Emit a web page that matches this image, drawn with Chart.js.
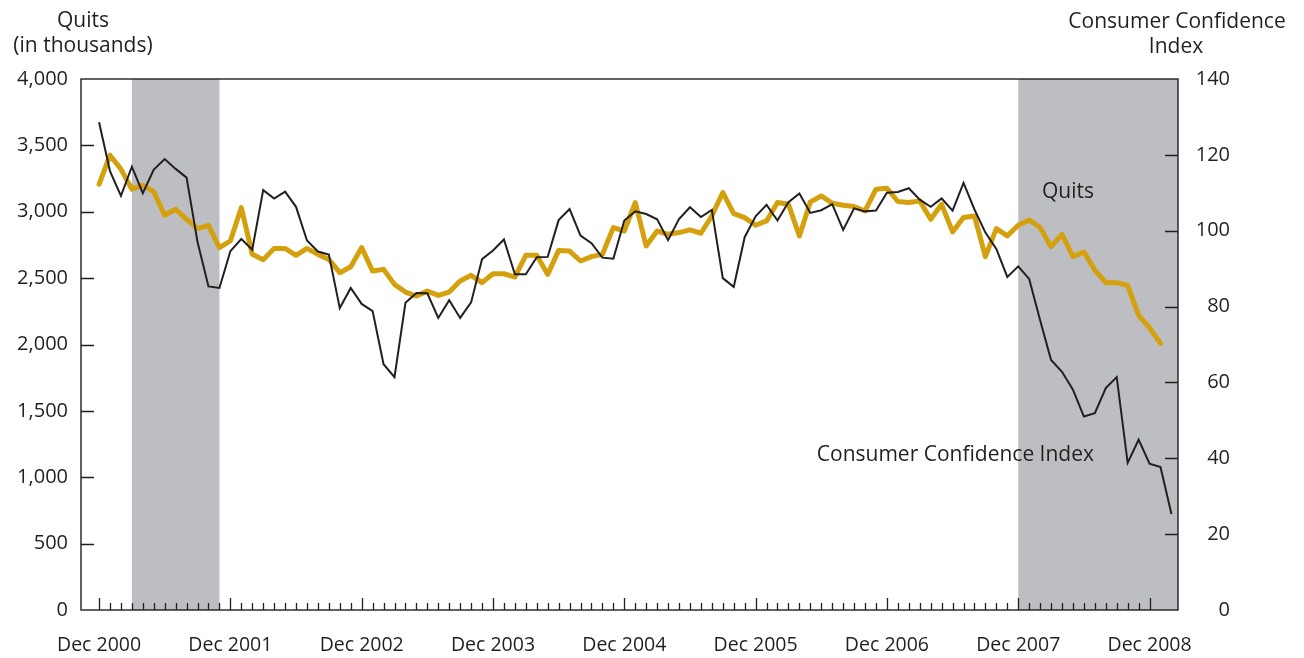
<!DOCTYPE html>
<html>
<head>
<meta charset="utf-8">
<script src="https://cdn.jsdelivr.net/npm/chart.js@4.4.1/dist/chart.umd.min.js"></script>
<style>
html,body{margin:0;padding:0;background:#fff;}
canvas{display:block;}
</style>
</head>
<body>
<canvas id="c" width="1304" height="658"></canvas>
<script>
// Months, Dec 2000 .. Feb 2009
const months = [
  "Dec 2000",
  "Jan 2001","Feb 2001","Mar 2001","Apr 2001","May 2001","Jun 2001","Jul 2001","Aug 2001","Sep 2001","Oct 2001","Nov 2001","Dec 2001",
  "Jan 2002","Feb 2002","Mar 2002","Apr 2002","May 2002","Jun 2002","Jul 2002","Aug 2002","Sep 2002","Oct 2002","Nov 2002","Dec 2002",
  "Jan 2003","Feb 2003","Mar 2003","Apr 2003","May 2003","Jun 2003","Jul 2003","Aug 2003","Sep 2003","Oct 2003","Nov 2003","Dec 2003",
  "Jan 2004","Feb 2004","Mar 2004","Apr 2004","May 2004","Jun 2004","Jul 2004","Aug 2004","Sep 2004","Oct 2004","Nov 2004","Dec 2004",
  "Jan 2005","Feb 2005","Mar 2005","Apr 2005","May 2005","Jun 2005","Jul 2005","Aug 2005","Sep 2005","Oct 2005","Nov 2005","Dec 2005",
  "Jan 2006","Feb 2006","Mar 2006","Apr 2006","May 2006","Jun 2006","Jul 2006","Aug 2006","Sep 2006","Oct 2006","Nov 2006","Dec 2006",
  "Jan 2007","Feb 2007","Mar 2007","Apr 2007","May 2007","Jun 2007","Jul 2007","Aug 2007","Sep 2007","Oct 2007","Nov 2007","Dec 2007",
  "Jan 2008","Feb 2008","Mar 2008","Apr 2008","May 2008","Jun 2008","Jul 2008","Aug 2008","Sep 2008","Oct 2008","Nov 2008","Dec 2008",
  "Jan 2009","Feb 2009"
];

// Quits (in thousands), left axis
const quits = [
  3207,
  3426,3321,3170,3200,3150,2974,3019,2943,2873,2898,2730,2780,
  3032,2679,2638,2724,2724,2672,2724,2679,2641,2541,2586,2730,
  2553,2566,2453,2395,2365,2402,2370,2395,2478,2521,2466,2533,
  2533,2508,2672,2672,2528,2709,2704,2629,2662,2679,2881,2855,
  3069,2742,2855,2830,2843,2863,2838,2968,3145,2986,2956,2898,
  2931,3069,3056,2817,3074,3119,3064,3049,3039,3006,3170,3177,
  3077,3069,3082,2943,3056,2848,2956,2968,2662,2873,2818,2898,
  2938,2881,2737,2830,2662,2697,2561,2466,2466,2445,2219,2126,
  2008,null
];

// Consumer Confidence Index, right axis
const cci = [
  128.6,
  115.7,109.2,116.9,109.9,116.1,118.9,116.3,114.0,97.0,85.3,84.9,94.6,
  97.8,95.0,110.7,108.5,110.3,106.3,97.4,94.5,93.7,79.6,84.9,80.7,
  78.8,64.8,61.4,81.0,83.6,83.5,77.0,81.7,77.0,81.1,92.5,94.8,
  97.7,88.5,88.5,93.0,93.1,102.8,105.7,98.7,96.7,92.9,92.6,102.7,
  105.1,104.4,103.0,97.5,103.1,106.2,103.6,105.5,87.5,85.2,98.3,103.8,
  106.8,102.7,107.5,109.8,104.7,105.4,107.0,100.2,105.9,105.1,105.3,110.0,
  110.2,111.2,108.2,106.3,108.5,105.3,112.6,105.6,99.5,95.2,87.8,90.6,
  87.3,76.4,65.9,62.8,58.1,51.0,51.9,58.5,61.4,38.8,44.9,38.6,
  37.7,25.3
];

// Tick labels on the time axis
const tickLabels = ["Dec 2000","Dec 2001","Dec 2002","Dec 2003","Dec 2004","Dec 2005","Dec 2006","Dec 2007","Dec 2008"];
const leftTicks = [0,500,1000,1500,2000,2500,3000,3500,4000];
const rightTicks = [0,20,40,60,80,100,120,140];

// Recessions (first month, last month; null = to the end of the axis)
const recessions = [["Mar 2001","Nov 2001"],["Dec 2007",null]];

const INK = '#231F20';
const GOLD = '#D5A00E';
const SHADE = '#BCBEC1';
const FONT = "'Open Sans', 'DejaVu Sans', sans-serif";

const decTicks = tickLabels.map(l => months.indexOf(l));

const decor = {
  id: 'decor',
  beforeDatasetsDraw(chart) {
    const {ctx, chartArea: a, scales: {x}} = chart;
    ctx.save();
    ctx.fillStyle = SHADE;
    recessions.forEach(([s, e]) => {
      const x1 = x.getPixelForValue(months.indexOf(s));
      const x2 = e === null ? a.right : x.getPixelForValue(months.indexOf(e));
      ctx.fillRect(x1, a.top, x2 - x1, a.bottom - a.top);
    });
    ctx.restore();
  },
  afterDatasetsDraw(chart) {
    const {ctx, chartArea: a, scales: {x, y, y2}} = chart;
    ctx.save();
    ctx.strokeStyle = INK;
    ctx.lineWidth = 1.4;
    // frame
    ctx.strokeRect(a.left, a.top, a.right - a.left, a.bottom - a.top);
    ctx.lineWidth = 1.3;
    ctx.beginPath();
    // month ticks on the time axis (pointing inward)
    for (let i = 0; i <= decTicks[decTicks.length - 1]; i++) {
      const px = Math.round(x.getPixelForValue(i)) + 0.5;
      const len = decTicks.includes(i) ? 12 : 7;
      ctx.moveTo(px, a.bottom);
      ctx.lineTo(px, a.bottom - len);
    }
    // left ticks
    leftTicks.forEach(v => {
      if (v === 0 || v === 4000) return;
      const py = Math.round(y.getPixelForValue(v)) + 0.5;
      ctx.moveTo(a.left, py); ctx.lineTo(a.left + 13, py);
    });
    // right ticks
    rightTicks.forEach(v => {
      if (v === 0 || v === 140) return;
      const py = Math.round(y2.getPixelForValue(v)) + 0.5;
      ctx.moveTo(a.right, py); ctx.lineTo(a.right - 13, py);
    });
    ctx.stroke();

    // titles and annotations
    ctx.fillStyle = INK;
    ctx.textBaseline = 'alphabetic';
    ctx.font = "21px " + FONT;
    ctx.textAlign = 'center';
    ctx.fillText('Quits', 83, 27);
    ctx.fillText('(in thousands)', 83, 52);
    ctx.fillText('Consumer Confidence', 1177, 28);
    ctx.fillText('Index', 1176, 53);
    ctx.textAlign = 'right';
    ctx.fillText('Quits', 1094, 198);
    ctx.fillText('Consumer Confidence Index', 1094, 461);
    ctx.restore();
  }
};

Chart.defaults.font.family = FONT;
Chart.defaults.color = INK;

new Chart(document.getElementById('c'), {
  type: 'line',
  data: {
    datasets: [
      {
        label: 'Consumer Confidence Index',
        data: cci.map((v, i) => ({x: i, y: v})),
        yAxisID: 'y2',
        borderColor: INK,
        borderWidth: 2,
        pointRadius: 0,
        tension: 0,
        fill: false
      },
      {
        label: 'Quits',
        data: quits.map((v, i) => ({x: i, y: v})),
        yAxisID: 'y',
        borderColor: GOLD,
        borderWidth: 5,
        borderJoinStyle: 'round',
        borderCapStyle: 'round',
        pointRadius: 0,
        tension: 0,
        fill: false,
        spanGaps: false
      }
    ]
  },
  options: {
    responsive: false,
    animation: false,
    devicePixelRatio: 1,
    layout: {padding: {top: 79, right: 74, left: 0, bottom: 0}},
    plugins: {legend: {display: false}, tooltip: {enabled: false}},
    scales: {
      x: {
        type: 'linear',
        min: -1.65,
        max: 98.6,
        grid: {display: false, drawTicks: false},
        border: {display: false},
        afterBuildTicks: s => { s.ticks = decTicks.map(v => ({value: v})); },
        afterFit: s => { s.height = 48; },
        ticks: {
          padding: 24,
          autoSkip: false,
          maxRotation: 0,
          minRotation: 0,
          font: {size: 19.5},
          color: INK,
          callback: (v, i) => tickLabels[i]
        }
      },
      y: {
        position: 'left',
        min: 0,
        max: 4000,
        grid: {display: false, drawTicks: false},
        border: {display: false},
        afterBuildTicks: s => { s.ticks = leftTicks.map(v => ({value: v})); },
        afterFit: s => { s.width = 81; },
        ticks: {
          padding: 13,
          font: {size: 20},
          color: INK,
          callback: v => v.toLocaleString('en-US')
        }
      },
      y2: {
        position: 'right',
        min: 0,
        max: 140,
        grid: {display: false, drawTicks: false},
        border: {display: false},
        afterBuildTicks: s => { s.ticks = rightTicks.map(v => ({value: v})); },
        afterFit: s => { s.width = 52; },
        ticks: {
          padding: 0,
          crossAlign: 'far',
          font: {size: 20},
          color: INK
        }
      }
    }
  },
  plugins: [decor]
});
</script>
</body>
</html>
